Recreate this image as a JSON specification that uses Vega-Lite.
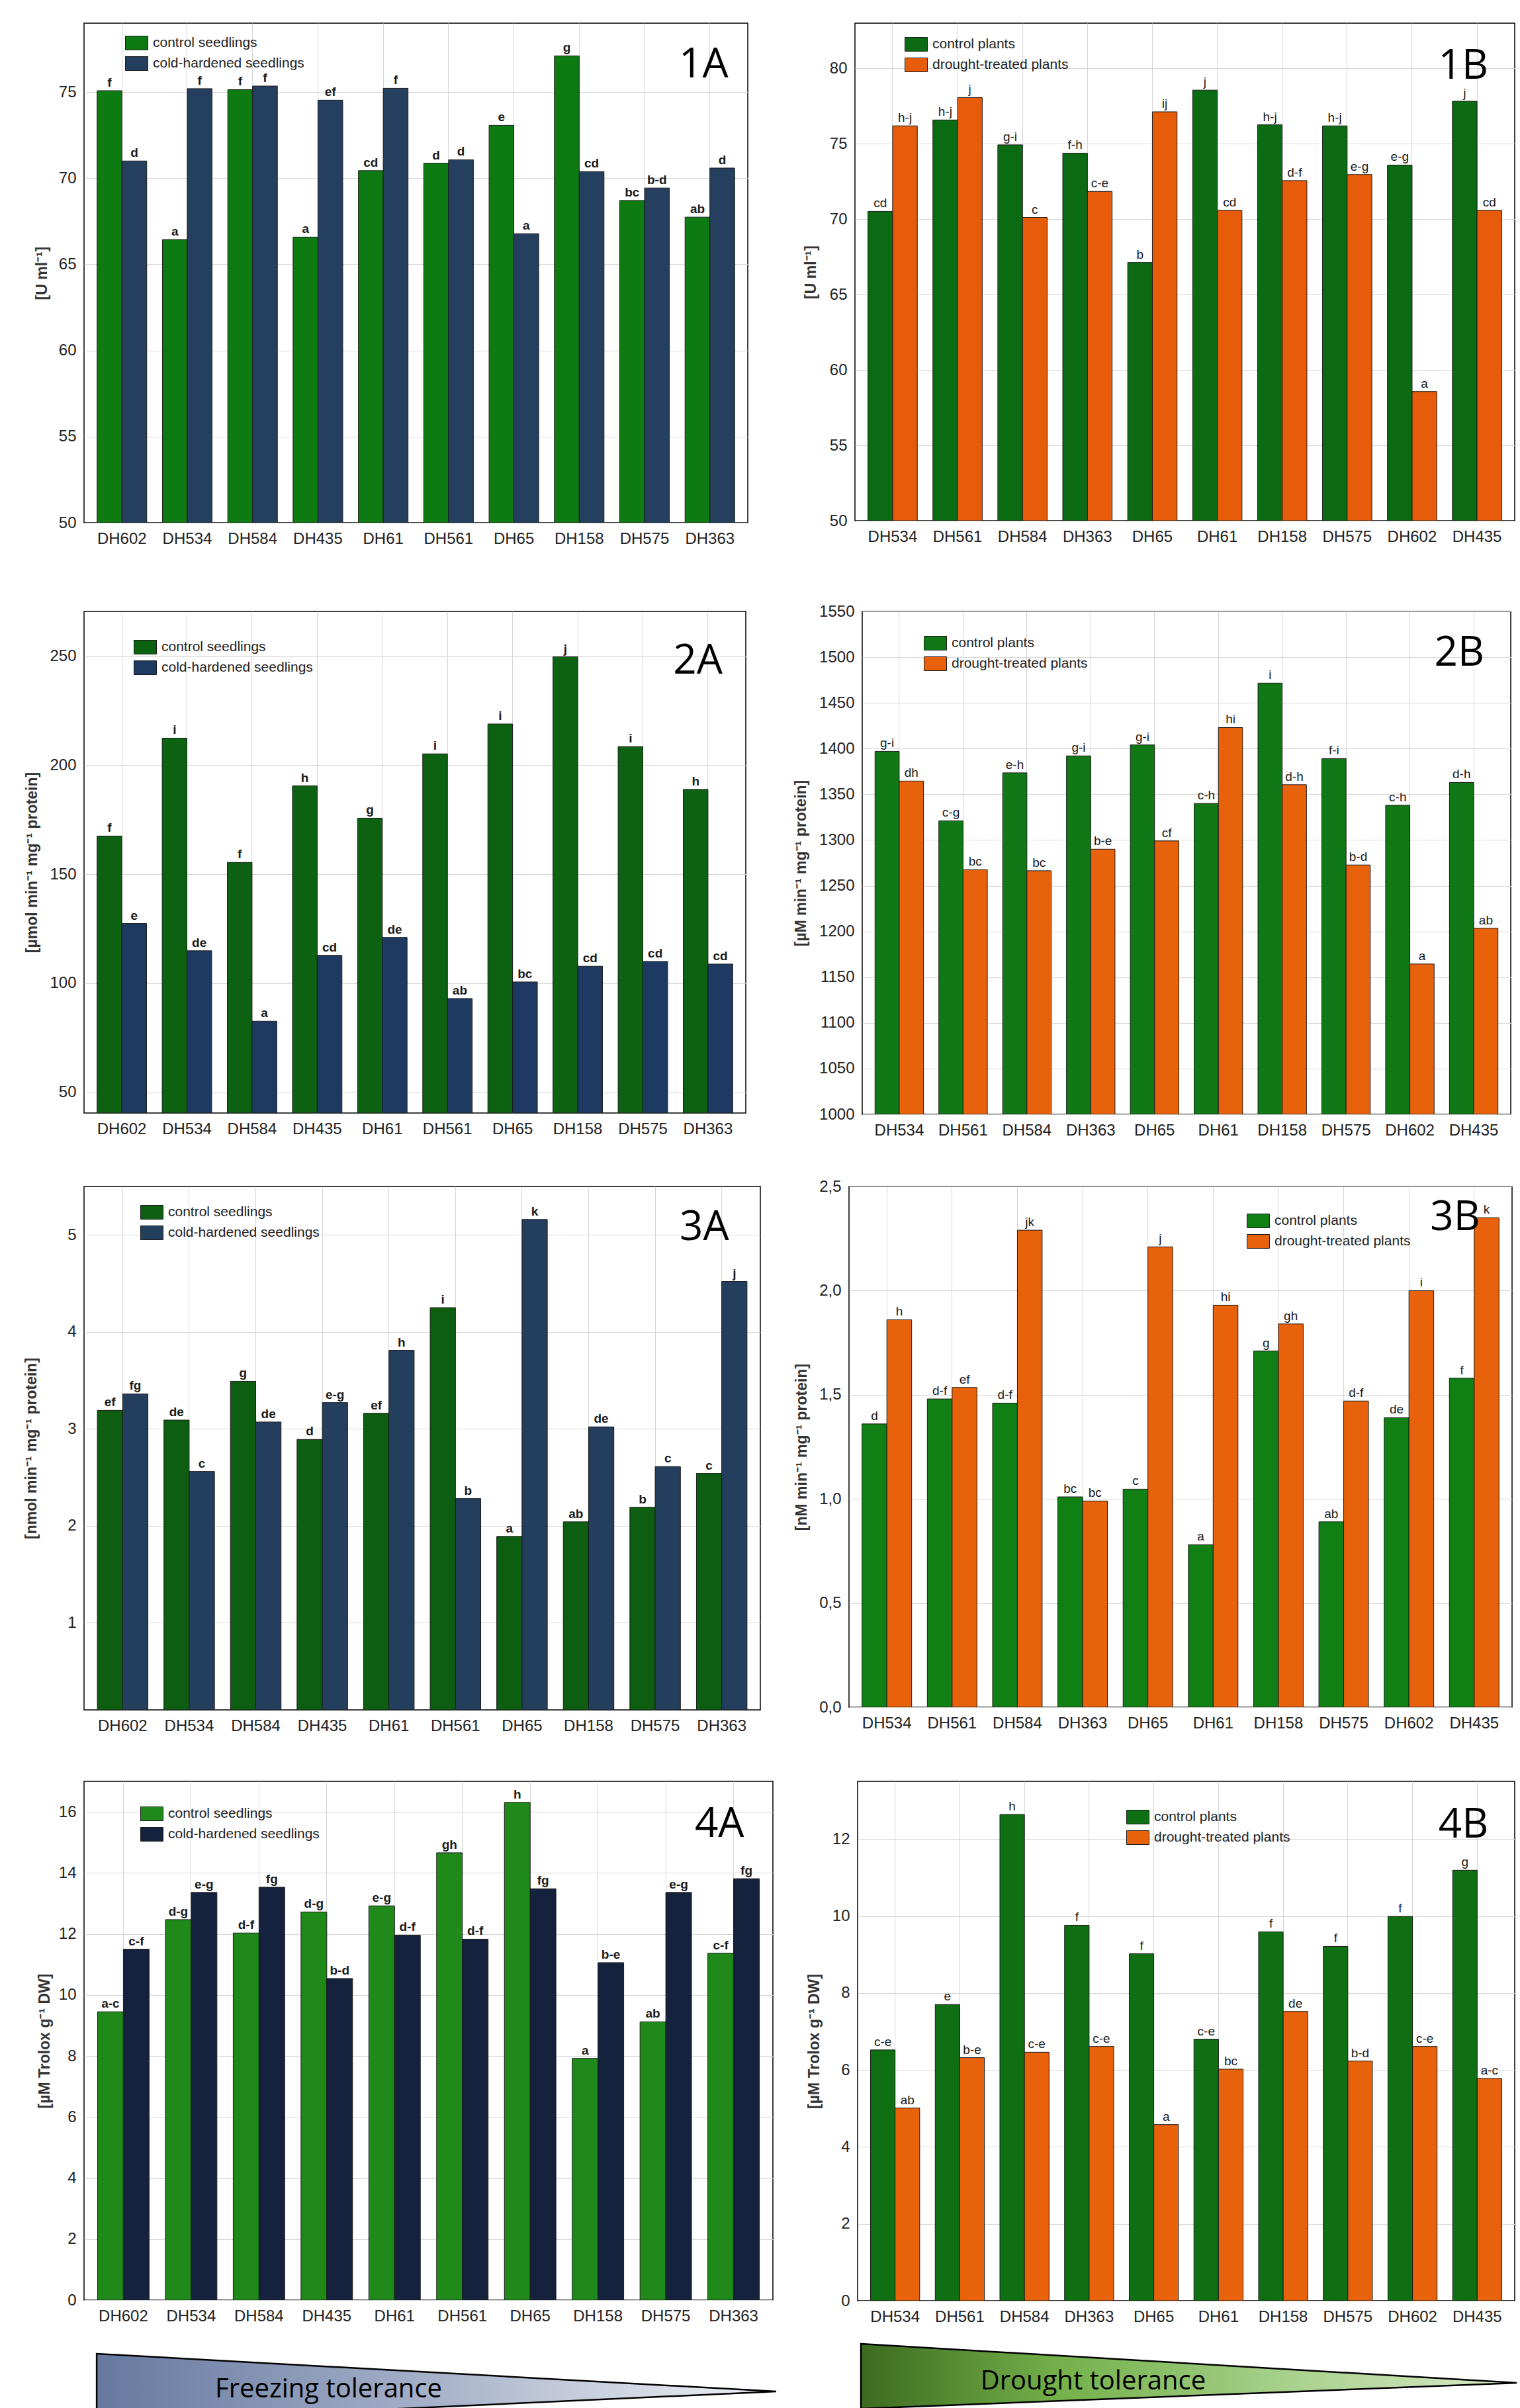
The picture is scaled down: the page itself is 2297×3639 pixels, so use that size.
{
"$schema": "https://vega.github.io/schema/vega-lite/v6.json",
"background": "white",
"padding": {"left": 35, "top": 34, "right": 0, "bottom": 0},
"config": {
  "view": {"stroke": "#000", "strokeWidth": 1.5},
  "axis": {"labelFont": "Liberation Sans", "labelFontSize": 24, "labelColor": "#222", "titleFont": "Liberation Sans", "titleFontSize": 23, "titleFontWeight": "bold", "titleColor": "#333", "titlePadding": 4, "labelPadding": 12, "grid": true, "gridColor": "#d6d6d6", "gridWidth": 1, "domain": false, "ticks": false, "labelOverlap": false},
  "legend": {"symbolType": "M-1.62,-1H1.62V1H-1.62Z", "symbolSize": 441, "symbolStrokeColor": "#1a1a1a", "symbolStrokeWidth": 1, "labelFont": "Liberation Sans", "labelFontSize": 21, "labelColor": "#222", "labelOffset": 13.5, "labelLimit": 0, "rowPadding": 5, "padding": 0, "symbolOpacity": 1}
},
"datasets": {
  "d1A": [
    {"line":"DH602","group":"control seedlings","value":75.08,"letter":"f"},
    {"line":"DH534","group":"control seedlings","value":66.44,"letter":"a"},
    {"line":"DH584","group":"control seedlings","value":75.14,"letter":"f"},
    {"line":"DH435","group":"control seedlings","value":66.58,"letter":"a"},
    {"line":"DH61","group":"control seedlings","value":70.44,"letter":"cd"},
    {"line":"DH561","group":"control seedlings","value":70.87,"letter":"d"},
    {"line":"DH65","group":"control seedlings","value":73.07,"letter":"e"},
    {"line":"DH158","group":"control seedlings","value":77.1,"letter":"g"},
    {"line":"DH575","group":"control seedlings","value":68.71,"letter":"bc"},
    {"line":"DH363","group":"control seedlings","value":67.74,"letter":"ab"},
    {"line":"DH602","group":"cold-hardened seedlings","value":71.0,"letter":"d"},
    {"line":"DH534","group":"cold-hardened seedlings","value":75.2,"letter":"f"},
    {"line":"DH584","group":"cold-hardened seedlings","value":75.35,"letter":"f"},
    {"line":"DH435","group":"cold-hardened seedlings","value":74.53,"letter":"ef"},
    {"line":"DH61","group":"cold-hardened seedlings","value":75.22,"letter":"f"},
    {"line":"DH561","group":"cold-hardened seedlings","value":71.07,"letter":"d"},
    {"line":"DH65","group":"cold-hardened seedlings","value":66.78,"letter":"a"},
    {"line":"DH158","group":"cold-hardened seedlings","value":70.38,"letter":"cd"},
    {"line":"DH575","group":"cold-hardened seedlings","value":69.43,"letter":"b-d"},
    {"line":"DH363","group":"cold-hardened seedlings","value":70.59,"letter":"d"}
  ],
  "d1B": [
    {"line":"DH534","group":"control plants","value":70.52,"letter":"cd"},
    {"line":"DH561","group":"control plants","value":76.58,"letter":"h-j"},
    {"line":"DH584","group":"control plants","value":74.93,"letter":"g-i"},
    {"line":"DH363","group":"control plants","value":74.38,"letter":"f-h"},
    {"line":"DH65","group":"control plants","value":67.13,"letter":"b"},
    {"line":"DH61","group":"control plants","value":78.56,"letter":"j"},
    {"line":"DH158","group":"control plants","value":76.26,"letter":"h-j"},
    {"line":"DH575","group":"control plants","value":76.19,"letter":"h-j"},
    {"line":"DH602","group":"control plants","value":73.59,"letter":"e-g"},
    {"line":"DH435","group":"control plants","value":77.82,"letter":"j"},
    {"line":"DH534","group":"drought-treated plants","value":76.19,"letter":"h-j"},
    {"line":"DH561","group":"drought-treated plants","value":78.07,"letter":"j"},
    {"line":"DH584","group":"drought-treated plants","value":70.12,"letter":"c"},
    {"line":"DH363","group":"drought-treated plants","value":71.84,"letter":"c-e"},
    {"line":"DH65","group":"drought-treated plants","value":77.12,"letter":"ij"},
    {"line":"DH61","group":"drought-treated plants","value":70.59,"letter":"cd"},
    {"line":"DH158","group":"drought-treated plants","value":72.56,"letter":"d-f"},
    {"line":"DH575","group":"drought-treated plants","value":72.96,"letter":"e-g"},
    {"line":"DH602","group":"drought-treated plants","value":58.57,"letter":"a"},
    {"line":"DH435","group":"drought-treated plants","value":70.59,"letter":"cd"}
  ],
  "d2A": [
    {"line":"DH602","group":"control seedlings","value":167.5,"letter":"f"},
    {"line":"DH534","group":"control seedlings","value":212.4,"letter":"i"},
    {"line":"DH584","group":"control seedlings","value":155.4,"letter":"f"},
    {"line":"DH435","group":"control seedlings","value":190.5,"letter":"h"},
    {"line":"DH61","group":"control seedlings","value":175.7,"letter":"g"},
    {"line":"DH561","group":"control seedlings","value":205.2,"letter":"i"},
    {"line":"DH65","group":"control seedlings","value":218.9,"letter":"i"},
    {"line":"DH158","group":"control seedlings","value":249.7,"letter":"j"},
    {"line":"DH575","group":"control seedlings","value":208.5,"letter":"i"},
    {"line":"DH363","group":"control seedlings","value":188.9,"letter":"h"},
    {"line":"DH602","group":"cold-hardened seedlings","value":127.4,"letter":"e"},
    {"line":"DH534","group":"cold-hardened seedlings","value":114.9,"letter":"de"},
    {"line":"DH584","group":"cold-hardened seedlings","value":82.6,"letter":"a"},
    {"line":"DH435","group":"cold-hardened seedlings","value":112.8,"letter":"cd"},
    {"line":"DH61","group":"cold-hardened seedlings","value":121.0,"letter":"de"},
    {"line":"DH561","group":"cold-hardened seedlings","value":93.0,"letter":"ab"},
    {"line":"DH65","group":"cold-hardened seedlings","value":100.6,"letter":"bc"},
    {"line":"DH158","group":"cold-hardened seedlings","value":107.8,"letter":"cd"},
    {"line":"DH575","group":"cold-hardened seedlings","value":110.0,"letter":"cd"},
    {"line":"DH363","group":"cold-hardened seedlings","value":108.8,"letter":"cd"}
  ],
  "d2B": [
    {"line":"DH534","group":"control plants","value":1397,"letter":"g-i"},
    {"line":"DH561","group":"control plants","value":1321,"letter":"c-g"},
    {"line":"DH584","group":"control plants","value":1373.5,"letter":"e-h"},
    {"line":"DH363","group":"control plants","value":1392,"letter":"g-i"},
    {"line":"DH65","group":"control plants","value":1404,"letter":"g-i"},
    {"line":"DH61","group":"control plants","value":1340,"letter":"c-h"},
    {"line":"DH158","group":"control plants","value":1471.6,"letter":"i"},
    {"line":"DH575","group":"control plants","value":1389,"letter":"f-i"},
    {"line":"DH602","group":"control plants","value":1338,"letter":"c-h"},
    {"line":"DH435","group":"control plants","value":1363,"letter":"d-h"},
    {"line":"DH534","group":"drought-treated plants","value":1364.5,"letter":"dh"},
    {"line":"DH561","group":"drought-treated plants","value":1267.6,"letter":"bc"},
    {"line":"DH584","group":"drought-treated plants","value":1266.4,"letter":"bc"},
    {"line":"DH363","group":"drought-treated plants","value":1290,"letter":"b-e"},
    {"line":"DH65","group":"drought-treated plants","value":1299,"letter":"cf"},
    {"line":"DH61","group":"drought-treated plants","value":1423,"letter":"hi"},
    {"line":"DH158","group":"drought-treated plants","value":1360.5,"letter":"d-h"},
    {"line":"DH575","group":"drought-treated plants","value":1272.7,"letter":"b-d"},
    {"line":"DH602","group":"drought-treated plants","value":1164.4,"letter":"a"},
    {"line":"DH435","group":"drought-treated plants","value":1203.6,"letter":"ab"}
  ],
  "d3A": [
    {"line":"DH602","group":"control seedlings","value":3.19,"letter":"ef"},
    {"line":"DH534","group":"control seedlings","value":3.09,"letter":"de"},
    {"line":"DH584","group":"control seedlings","value":3.49,"letter":"g"},
    {"line":"DH435","group":"control seedlings","value":2.89,"letter":"d"},
    {"line":"DH61","group":"control seedlings","value":3.16,"letter":"ef"},
    {"line":"DH561","group":"control seedlings","value":4.25,"letter":"i"},
    {"line":"DH65","group":"control seedlings","value":1.89,"letter":"a"},
    {"line":"DH158","group":"control seedlings","value":2.04,"letter":"ab"},
    {"line":"DH575","group":"control seedlings","value":2.19,"letter":"b"},
    {"line":"DH363","group":"control seedlings","value":2.54,"letter":"c"},
    {"line":"DH602","group":"cold-hardened seedlings","value":3.36,"letter":"fg"},
    {"line":"DH534","group":"cold-hardened seedlings","value":2.56,"letter":"c"},
    {"line":"DH584","group":"cold-hardened seedlings","value":3.07,"letter":"de"},
    {"line":"DH435","group":"cold-hardened seedlings","value":3.27,"letter":"e-g"},
    {"line":"DH61","group":"cold-hardened seedlings","value":3.81,"letter":"h"},
    {"line":"DH561","group":"cold-hardened seedlings","value":2.28,"letter":"b"},
    {"line":"DH65","group":"cold-hardened seedlings","value":5.16,"letter":"k"},
    {"line":"DH158","group":"cold-hardened seedlings","value":3.02,"letter":"de"},
    {"line":"DH575","group":"cold-hardened seedlings","value":2.61,"letter":"c"},
    {"line":"DH363","group":"cold-hardened seedlings","value":4.52,"letter":"j"}
  ],
  "d3B": [
    {"line":"DH534","group":"control plants","value":1.36,"letter":"d"},
    {"line":"DH561","group":"control plants","value":1.48,"letter":"d-f"},
    {"line":"DH584","group":"control plants","value":1.46,"letter":"d-f"},
    {"line":"DH363","group":"control plants","value":1.01,"letter":"bc"},
    {"line":"DH65","group":"control plants","value":1.047,"letter":"c"},
    {"line":"DH61","group":"control plants","value":0.78,"letter":"a"},
    {"line":"DH158","group":"control plants","value":1.71,"letter":"g"},
    {"line":"DH575","group":"control plants","value":0.89,"letter":"ab"},
    {"line":"DH602","group":"control plants","value":1.39,"letter":"de"},
    {"line":"DH435","group":"control plants","value":1.58,"letter":"f"},
    {"line":"DH534","group":"drought-treated plants","value":1.86,"letter":"h"},
    {"line":"DH561","group":"drought-treated plants","value":1.535,"letter":"ef"},
    {"line":"DH584","group":"drought-treated plants","value":2.29,"letter":"jk"},
    {"line":"DH363","group":"drought-treated plants","value":0.99,"letter":"bc"},
    {"line":"DH65","group":"drought-treated plants","value":2.21,"letter":"j"},
    {"line":"DH61","group":"drought-treated plants","value":1.93,"letter":"hi"},
    {"line":"DH158","group":"drought-treated plants","value":1.84,"letter":"gh"},
    {"line":"DH575","group":"drought-treated plants","value":1.47,"letter":"d-f"},
    {"line":"DH602","group":"drought-treated plants","value":2.0,"letter":"i"},
    {"line":"DH435","group":"drought-treated plants","value":2.35,"letter":"k"}
  ],
  "d4A": [
    {"line":"DH602","group":"control seedlings","value":9.45,"letter":"a-c"},
    {"line":"DH534","group":"control seedlings","value":12.47,"letter":"d-g"},
    {"line":"DH584","group":"control seedlings","value":12.03,"letter":"d-f"},
    {"line":"DH435","group":"control seedlings","value":12.72,"letter":"d-g"},
    {"line":"DH61","group":"control seedlings","value":12.92,"letter":"e-g"},
    {"line":"DH561","group":"control seedlings","value":14.66,"letter":"gh"},
    {"line":"DH65","group":"control seedlings","value":16.31,"letter":"h"},
    {"line":"DH158","group":"control seedlings","value":7.92,"letter":"a"},
    {"line":"DH575","group":"control seedlings","value":9.12,"letter":"ab"},
    {"line":"DH363","group":"control seedlings","value":11.37,"letter":"c-f"},
    {"line":"DH602","group":"cold-hardened seedlings","value":11.5,"letter":"c-f"},
    {"line":"DH534","group":"cold-hardened seedlings","value":13.36,"letter":"e-g"},
    {"line":"DH584","group":"cold-hardened seedlings","value":13.53,"letter":"fg"},
    {"line":"DH435","group":"cold-hardened seedlings","value":10.54,"letter":"b-d"},
    {"line":"DH61","group":"cold-hardened seedlings","value":11.96,"letter":"d-f"},
    {"line":"DH561","group":"cold-hardened seedlings","value":11.83,"letter":"d-f"},
    {"line":"DH65","group":"cold-hardened seedlings","value":13.48,"letter":"fg"},
    {"line":"DH158","group":"cold-hardened seedlings","value":11.06,"letter":"b-e"},
    {"line":"DH575","group":"cold-hardened seedlings","value":13.36,"letter":"e-g"},
    {"line":"DH363","group":"cold-hardened seedlings","value":13.81,"letter":"fg"}
  ],
  "d4B": [
    {"line":"DH534","group":"control plants","value":6.52,"letter":"c-e"},
    {"line":"DH561","group":"control plants","value":7.7,"letter":"e"},
    {"line":"DH584","group":"control plants","value":12.64,"letter":"h"},
    {"line":"DH363","group":"control plants","value":9.76,"letter":"f"},
    {"line":"DH65","group":"control plants","value":9.02,"letter":"f"},
    {"line":"DH61","group":"control plants","value":6.8,"letter":"c-e"},
    {"line":"DH158","group":"control plants","value":9.59,"letter":"f"},
    {"line":"DH575","group":"control plants","value":9.21,"letter":"f"},
    {"line":"DH602","group":"control plants","value":9.99,"letter":"f"},
    {"line":"DH435","group":"control plants","value":11.19,"letter":"g"},
    {"line":"DH534","group":"drought-treated plants","value":5.01,"letter":"ab"},
    {"line":"DH561","group":"drought-treated plants","value":6.32,"letter":"b-e"},
    {"line":"DH584","group":"drought-treated plants","value":6.46,"letter":"c-e"},
    {"line":"DH363","group":"drought-treated plants","value":6.61,"letter":"c-e"},
    {"line":"DH65","group":"drought-treated plants","value":4.58,"letter":"a"},
    {"line":"DH61","group":"drought-treated plants","value":6.02,"letter":"bc"},
    {"line":"DH158","group":"drought-treated plants","value":7.52,"letter":"de"},
    {"line":"DH575","group":"drought-treated plants","value":6.23,"letter":"b-d"},
    {"line":"DH602","group":"drought-treated plants","value":6.61,"letter":"c-e"},
    {"line":"DH435","group":"drought-treated plants","value":5.78,"letter":"a-c"}
  ]
},
"columns": 1,
"align": "none",
"spacing": 20,
"resolve": {"scale": {"color": "independent", "x": "independent", "y": "independent", "xOffset": "independent"}, "legend": {"color": "independent"}},
"concat": [
 {"hconcat": [
  {"width": 1003, "height": 755, "data": {"name": "d1A"},
   "layer": [
    {"mark": {"type": "bar", "stroke": "#1a1a1a", "strokeWidth": 1, "clip": true},
     "encoding": {
      "x": {"field": "line", "type": "nominal", "scale": {"domain": ["DH602","DH534","DH584","DH435","DH61","DH561","DH65","DH158","DH575","DH363"], "paddingInner": 0.24, "paddingOuter": 0.2}, "axis": {"title": null, "labelAngle": 0, "bandPosition": 0.5, "minExtent": 100, "maxExtent": 100}},
      "xOffset": {"field": "group", "type": "nominal", "scale": {"domain": ["control seedlings","cold-hardened seedlings"], "paddingInner": 0, "paddingOuter": 0}},
      "y": {"field": "value", "type": "quantitative", "scale": {"domain": [50, 79], "nice": false, "zero": false}, "axis": {"title": "[U ml⁻¹]", "values": [50,55,60,65,70,75], "format": "d", "minExtent": 48, "maxExtent": 48}},
      "y2": {"datum": 50},
      "color": {"field": "group", "type": "nominal", "title": null, "scale": {"domain": ["control seedlings","cold-hardened seedlings"], "range": ["#0d7a12","#253f5f"]}, "legend": {"orient": "none", "legendX": 68.5, "legendY": 19, "symbolType": "M-1.62,-1H1.62V1H-1.62Z"}}
     }},
    {"mark": {"type": "text", "baseline": "bottom", "dy": -2, "fontSize": 19, "fontWeight": "bold", "font": "Liberation Sans", "color": "#1a1a1a"},
     "encoding": {"x": {"field": "line", "type": "nominal"}, "xOffset": {"field": "group", "type": "nominal"}, "y": {"field": "value", "type": "quantitative"}, "text": {"field": "letter"}}},
    {"data": {"values": [{"label": "1A", "line": "DH363", "value": 75.85}]},
     "mark": {"type": "text", "align": "right", "baseline": "alphabetic", "dx": 28, "fontSize": 62, "font": "Open Sans", "color": "#000"},
     "encoding": {"x": {"field": "line", "type": "nominal"}, "y": {"field": "value", "type": "quantitative"}, "text": {"field": "label"}}}
   ]},
  {"width": 997, "height": 752, "data": {"name": "d1B"},
   "layer": [
    {"mark": {"type": "bar", "stroke": "#1a1a1a", "strokeWidth": 1, "clip": true},
     "encoding": {
      "x": {"field": "line", "type": "nominal", "scale": {"domain": ["DH534","DH561","DH584","DH363","DH65","DH61","DH158","DH575","DH602","DH435"], "paddingInner": 0.24, "paddingOuter": 0.2}, "axis": {"title": null, "labelAngle": 0, "bandPosition": 0.5, "minExtent": 100, "maxExtent": 100}},
      "xOffset": {"field": "group", "type": "nominal", "scale": {"domain": ["control plants","drought-treated plants"], "paddingInner": 0, "paddingOuter": 0}},
      "y": {"field": "value", "type": "quantitative", "scale": {"domain": [50, 83], "nice": false, "zero": false}, "axis": {"title": "[U ml⁻¹]", "values": [50,55,60,65,70,75,80], "format": "d", "minExtent": 51, "maxExtent": 51}},
      "y2": {"datum": 50},
      "color": {"field": "group", "type": "nominal", "title": null, "scale": {"domain": ["control plants","drought-treated plants"], "range": ["#0b6b12","#e65c0a"]}, "legend": {"orient": "none", "legendX": 81.5, "legendY": 21, "symbolType": "M-1.62,-1H1.62V1H-1.62Z"}}
     }},
    {"mark": {"type": "text", "baseline": "bottom", "dy": -2, "fontSize": 19, "font": "Liberation Sans", "color": "#1a1a1a"},
     "encoding": {"x": {"field": "line", "type": "nominal"}, "xOffset": {"field": "group", "type": "nominal"}, "y": {"field": "value", "type": "quantitative"}, "text": {"field": "letter"}}},
    {"data": {"values": [{"label": "1B", "line": "DH435", "value": 79.3}]},
     "mark": {"type": "text", "align": "right", "baseline": "alphabetic", "dx": 17, "fontSize": 62, "font": "Open Sans", "color": "#000"},
     "encoding": {"x": {"field": "line", "type": "nominal"}, "y": {"field": "value", "type": "quantitative"}, "text": {"field": "label"}}}
   ]}
 ], "spacing": 82, "resolve": {"scale": {"color": "independent", "x": "independent", "y": "independent", "xOffset": "independent"}, "legend": {"color": "independent"}}},
 {"hconcat": [
  {"width": 1000, "height": 758, "data": {"name": "d2A"},
   "layer": [
    {"mark": {"type": "bar", "stroke": "#1a1a1a", "strokeWidth": 1, "clip": true},
     "encoding": {
      "x": {"field": "line", "type": "nominal", "scale": {"domain": ["DH602","DH534","DH584","DH435","DH61","DH561","DH65","DH158","DH575","DH363"], "paddingInner": 0.24, "paddingOuter": 0.2}, "axis": {"title": null, "labelAngle": 0, "bandPosition": 0.5, "minExtent": 75, "maxExtent": 75}},
      "xOffset": {"field": "group", "type": "nominal", "scale": {"domain": ["control seedlings","cold-hardened seedlings"], "paddingInner": 0, "paddingOuter": 0}},
      "y": {"field": "value", "type": "quantitative", "scale": {"domain": [40.5, 270.5], "nice": false, "zero": false}, "axis": {"title": "[µmol min⁻¹ mg⁻¹ protein]", "values": [50,100,150,200,250], "format": "d", "minExtent": 63, "maxExtent": 63}},
      "y2": {"datum": 40.5},
      "color": {"field": "group", "type": "nominal", "title": null, "scale": {"domain": ["control seedlings","cold-hardened seedlings"], "range": ["#0c6210","#1e3a62"]}, "legend": {"orient": "none", "legendX": 81.5, "legendY": 43, "symbolType": "M-1.62,-1H1.62V1H-1.62Z"}}
     }},
    {"mark": {"type": "text", "baseline": "bottom", "dy": -2, "fontSize": 19, "fontWeight": "bold", "font": "Liberation Sans", "color": "#1a1a1a"},
     "encoding": {"x": {"field": "line", "type": "nominal"}, "xOffset": {"field": "group", "type": "nominal"}, "y": {"field": "value", "type": "quantitative"}, "text": {"field": "letter"}}},
    {"data": {"values": [{"label": "2A", "line": "DH363", "value": 242}]},
     "mark": {"type": "text", "align": "right", "baseline": "alphabetic", "dx": 22, "fontSize": 62, "font": "Open Sans", "color": "#000"},
     "encoding": {"x": {"field": "line", "type": "nominal"}, "y": {"field": "value", "type": "quantitative"}, "text": {"field": "label"}}}
   ]},
  {"width": 980, "height": 760, "data": {"name": "d2B"},
   "layer": [
    {"mark": {"type": "bar", "stroke": "#1a1a1a", "strokeWidth": 1, "clip": true},
     "encoding": {
      "x": {"field": "line", "type": "nominal", "scale": {"domain": ["DH534","DH561","DH584","DH363","DH65","DH61","DH158","DH575","DH602","DH435"], "paddingInner": 0.24, "paddingOuter": 0.2}, "axis": {"title": null, "labelAngle": 0, "bandPosition": 0.5, "minExtent": 75, "maxExtent": 75}},
      "xOffset": {"field": "group", "type": "nominal", "scale": {"domain": ["control plants","drought-treated plants"], "paddingInner": 0, "paddingOuter": 0}},
      "y": {"field": "value", "type": "quantitative", "scale": {"domain": [1000, 1550], "nice": false, "zero": false}, "axis": {"title": "[µM min⁻¹ mg⁻¹ protein]", "values": [1000,1050,1100,1150,1200,1250,1300,1350,1400,1450,1500,1550], "format": "d", "minExtent": 77, "maxExtent": 77}},
      "y2": {"datum": 1000},
      "color": {"field": "group", "type": "nominal", "title": null, "scale": {"domain": ["control plants","drought-treated plants"], "range": ["#107814","#e8620c"]}, "legend": {"orient": "none", "legendX": 99.5, "legendY": 37, "symbolType": "M-1.62,-1H1.62V1H-1.62Z"}}
     }},
    {"mark": {"type": "text", "baseline": "bottom", "dy": -2, "fontSize": 19, "font": "Liberation Sans", "color": "#1a1a1a"},
     "encoding": {"x": {"field": "line", "type": "nominal"}, "xOffset": {"field": "group", "type": "nominal"}, "y": {"field": "value", "type": "quantitative"}, "text": {"field": "letter"}}},
    {"data": {"values": [{"label": "2B", "line": "DH435", "value": 1490.7}]},
     "mark": {"type": "text", "align": "right", "baseline": "alphabetic", "dx": 16, "fontSize": 62, "font": "Open Sans", "color": "#000"},
     "encoding": {"x": {"field": "line", "type": "nominal"}, "y": {"field": "value", "type": "quantitative"}, "text": {"field": "label"}}}
   ]}
 ], "spacing": 70, "resolve": {"scale": {"color": "independent", "x": "independent", "y": "independent", "xOffset": "independent"}, "legend": {"color": "independent"}}},
 {"hconcat": [
  {"width": 1022, "height": 791, "data": {"name": "d3A"},
   "layer": [
    {"mark": {"type": "bar", "stroke": "#1a1a1a", "strokeWidth": 1, "clip": true},
     "encoding": {
      "x": {"field": "line", "type": "nominal", "scale": {"domain": ["DH602","DH534","DH584","DH435","DH61","DH561","DH65","DH158","DH575","DH363"], "paddingInner": 0.24, "paddingOuter": 0.2}, "axis": {"title": null, "labelAngle": 0, "bandPosition": 0.5, "minExtent": 86, "maxExtent": 86}},
      "xOffset": {"field": "group", "type": "nominal", "scale": {"domain": ["control seedlings","cold-hardened seedlings"], "paddingInner": 0, "paddingOuter": 0}},
      "y": {"field": "value", "type": "quantitative", "scale": {"domain": [0.1, 5.5], "nice": false, "zero": false}, "axis": {"title": "[nmol min⁻¹ mg⁻¹ protein]", "values": [1,2,3,4,5], "format": "d", "minExtent": 64, "maxExtent": 64}},
      "y2": {"datum": 0.1},
      "color": {"field": "group", "type": "nominal", "title": null, "scale": {"domain": ["control seedlings","cold-hardened seedlings"], "range": ["#0d5e10","#243e5e"]}, "legend": {"orient": "none", "legendX": 91.5, "legendY": 28, "symbolType": "M-1.62,-1H1.62V1H-1.62Z"}}
     }},
    {"mark": {"type": "text", "baseline": "bottom", "dy": -2, "fontSize": 19, "fontWeight": "bold", "font": "Liberation Sans", "color": "#1a1a1a"},
     "encoding": {"x": {"field": "line", "type": "nominal"}, "xOffset": {"field": "group", "type": "nominal"}, "y": {"field": "value", "type": "quantitative"}, "text": {"field": "letter"}}},
    {"data": {"values": [{"label": "3A", "line": "DH363", "value": 4.95}]},
     "mark": {"type": "text", "align": "right", "baseline": "alphabetic", "dx": 11, "fontSize": 62, "font": "Open Sans", "color": "#000"},
     "encoding": {"x": {"field": "line", "type": "nominal"}, "y": {"field": "value", "type": "quantitative"}, "text": {"field": "label"}}}
   ]},
  {"width": 1002, "height": 787, "data": {"name": "d3B"},
   "layer": [
    {"mark": {"type": "bar", "stroke": "#1a1a1a", "strokeWidth": 1, "clip": true},
     "encoding": {
      "x": {"field": "line", "type": "nominal", "scale": {"domain": ["DH534","DH561","DH584","DH363","DH65","DH61","DH158","DH575","DH602","DH435"], "paddingInner": 0.24, "paddingOuter": 0.2}, "axis": {"title": null, "labelAngle": 0, "bandPosition": 0.5, "minExtent": 86, "maxExtent": 86}},
      "xOffset": {"field": "group", "type": "nominal", "scale": {"domain": ["control plants","drought-treated plants"], "paddingInner": 0, "paddingOuter": 0}},
      "y": {"field": "value", "type": "quantitative", "scale": {"domain": [0, 2.5], "nice": false, "zero": false}, "axis": {"title": "[nM min⁻¹ mg⁻¹ protein]", "values": [0,0.5,1,1.5,2,2.5], "labelExpr": "replace(format(datum.value, '.1f'), '.', ',')", "minExtent": 56, "maxExtent": 56}},
      "y2": {"datum": 0},
      "color": {"field": "group", "type": "nominal", "title": null, "scale": {"domain": ["control plants","drought-treated plants"], "range": ["#118014","#e8620c"]}, "legend": {"orient": "none", "legendX": 607.5, "legendY": 41, "symbolType": "M-1.62,-1H1.62V1H-1.62Z"}}
     }},
    {"mark": {"type": "text", "baseline": "bottom", "dy": -2, "fontSize": 19, "font": "Liberation Sans", "color": "#1a1a1a"},
     "encoding": {"x": {"field": "line", "type": "nominal"}, "xOffset": {"field": "group", "type": "nominal"}, "y": {"field": "value", "type": "quantitative"}, "text": {"field": "letter"}}},
    {"data": {"values": [{"label": "3B", "line": "DH435", "value": 2.29}]},
     "mark": {"type": "text", "align": "right", "baseline": "alphabetic", "dx": 9, "fontSize": 62, "font": "Open Sans", "color": "#000"},
     "encoding": {"x": {"field": "line", "type": "nominal"}, "y": {"field": "value", "type": "quantitative"}, "text": {"field": "label"}}}
   ]}
 ], "spacing": 49, "resolve": {"scale": {"color": "independent", "x": "independent", "y": "independent", "xOffset": "independent"}, "legend": {"color": "independent"}}},
 {"hconcat": [
  {"width": 1041, "height": 784, "data": {"name": "d4A"},
   "layer": [
    {"mark": {"type": "bar", "stroke": "#1a1a1a", "strokeWidth": 1, "clip": true},
     "encoding": {
      "x": {"field": "line", "type": "nominal", "scale": {"domain": ["DH602","DH534","DH584","DH435","DH61","DH561","DH65","DH158","DH575","DH363"], "paddingInner": 0.24, "paddingOuter": 0.2}, "axis": {"title": null, "labelAngle": 0, "bandPosition": 0.5, "minExtent": 42, "maxExtent": 42}},
      "xOffset": {"field": "group", "type": "nominal", "scale": {"domain": ["control seedlings","cold-hardened seedlings"], "paddingInner": 0, "paddingOuter": 0}},
      "y": {"field": "value", "type": "quantitative", "scale": {"domain": [0, 17], "nice": false, "zero": false}, "axis": {"title": "[µM Trolox g⁻¹ DW]", "values": [0,2,4,6,8,10,12,14,16], "format": "d", "minExtent": 44, "maxExtent": 44}},
      "y2": {"datum": 0},
      "color": {"field": "group", "type": "nominal", "title": null, "scale": {"domain": ["control seedlings","cold-hardened seedlings"], "range": ["#1f8a1a","#14223d"]}, "legend": {"orient": "none", "legendX": 91.5, "legendY": 38, "symbolType": "M-1.62,-1H1.62V1H-1.62Z"}}
     }},
    {"mark": {"type": "text", "baseline": "bottom", "dy": -2, "fontSize": 19, "fontWeight": "bold", "font": "Liberation Sans", "color": "#1a1a1a"},
     "encoding": {"x": {"field": "line", "type": "nominal"}, "xOffset": {"field": "group", "type": "nominal"}, "y": {"field": "value", "type": "quantitative"}, "text": {"field": "letter"}}},
    {"data": {"values": [{"label": "4A", "line": "DH363", "value": 15.18}]},
     "mark": {"type": "text", "align": "right", "baseline": "alphabetic", "dx": 16, "fontSize": 62, "font": "Open Sans", "color": "#000"},
     "encoding": {"x": {"field": "line", "type": "nominal"}, "y": {"field": "value", "type": "quantitative"}, "text": {"field": "label"}}}
   ]},
  {"width": 993, "height": 785, "data": {"name": "d4B"},
   "layer": [
    {"mark": {"type": "bar", "stroke": "#1a1a1a", "strokeWidth": 1, "clip": true},
     "encoding": {
      "x": {"field": "line", "type": "nominal", "scale": {"domain": ["DH534","DH561","DH584","DH363","DH65","DH61","DH158","DH575","DH602","DH435"], "paddingInner": 0.24, "paddingOuter": 0.2}, "axis": {"title": null, "labelAngle": 0, "bandPosition": 0.5, "minExtent": 42, "maxExtent": 42}},
      "xOffset": {"field": "group", "type": "nominal", "scale": {"domain": ["control plants","drought-treated plants"], "paddingInner": 0, "paddingOuter": 0}},
      "y": {"field": "value", "type": "quantitative", "scale": {"domain": [0, 13.5], "nice": false, "zero": false}, "axis": {"title": "[µM Trolox g⁻¹ DW]", "values": [0,2,4,6,8,10,12], "format": "d", "minExtent": 50, "maxExtent": 50}},
      "y2": {"datum": 0},
      "color": {"field": "group", "type": "nominal", "title": null, "scale": {"domain": ["control plants","drought-treated plants"], "range": ["#0e7012","#e8620c"]}, "legend": {"orient": "none", "legendX": 412.5, "legendY": 43, "symbolType": "M-1.62,-1H1.62V1H-1.62Z"}}
     }},
    {"mark": {"type": "text", "baseline": "bottom", "dy": -2, "fontSize": 19, "font": "Liberation Sans", "color": "#1a1a1a"},
     "encoding": {"x": {"field": "line", "type": "nominal"}, "xOffset": {"field": "group", "type": "nominal"}, "y": {"field": "value", "type": "quantitative"}, "text": {"field": "letter"}}},
    {"data": {"values": [{"label": "4B", "line": "DH435", "value": 12.04}]},
     "mark": {"type": "text", "align": "right", "baseline": "alphabetic", "dx": 17, "fontSize": 62, "font": "Open Sans", "color": "#000"},
     "encoding": {"x": {"field": "line", "type": "nominal"}, "y": {"field": "value", "type": "quantitative"}, "text": {"field": "label"}}}
   ]}
 ], "spacing": 49, "resolve": {"scale": {"color": "independent", "x": "independent", "y": "independent", "xOffset": "independent"}, "legend": {"color": "independent"}}},
 {"width": 2171, "height": 100, "view": {"stroke": null},
  "layer": [
   {"data": {"values": [{"x": 0.88, "top": 17, "bottom": 121}, {"x": 48.18, "top": 74, "bottom": 74}]},
    "mark": {"type": "area", "orient": "vertical", "clip": true, "stroke": "#000", "strokeWidth": 2.5, "fill": {"gradient": "linear", "x1": 0, "y1": 0, "x2": 1, "y2": 0, "stops": [{"offset": 0, "color": "#66789f"}, {"offset": 0.5, "color": "#a7b2ca"}, {"offset": 1, "color": "#f1f2f6"}]}},
    "encoding": {"x": {"field": "x", "type": "quantitative", "scale": {"domain": [0, 100]}, "axis": null}, "y": {"field": "top", "type": "quantitative", "scale": {"domain": [0, 100], "reverse": true}, "axis": null}, "y2": {"field": "bottom"}}},
   {"data": {"values": [{"x": 54.08, "top": 2, "bottom": 100}, {"x": 99.72, "top": 61, "bottom": 61}]},
    "mark": {"type": "area", "orient": "vertical", "clip": true, "stroke": "#000", "strokeWidth": 2.5, "fill": {"gradient": "linear", "x1": 0, "y1": 0, "x2": 1, "y2": 0, "stops": [{"offset": 0, "color": "#3d6a20"}, {"offset": 0.3, "color": "#74b04a"}, {"offset": 0.65, "color": "#a8d18c"}, {"offset": 1, "color": "#d8ebc9"}]}},
    "encoding": {"x": {"field": "x", "type": "quantitative"}, "y": {"field": "top", "type": "quantitative"}, "y2": {"field": "bottom"}}},
   {"data": {"values": [{"x": 17.02, "y": 71, "t": "Freezing  tolerance"}, {"x": 70.24, "y": 59, "t": "Drought tolerance"}]},
    "mark": {"type": "text", "align": "center", "baseline": "middle", "font": "Open Sans", "fontSize": 40, "color": "#000", "clip": true},
    "encoding": {"x": {"field": "x", "type": "quantitative"}, "y": {"field": "y", "type": "quantitative"}, "text": {"field": "t"}}}
  ]}
]
}
